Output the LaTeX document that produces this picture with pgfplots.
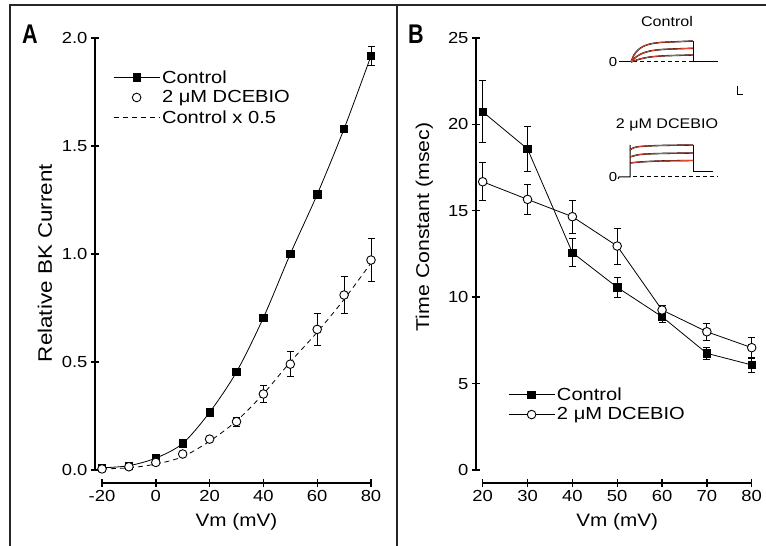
\documentclass[border=0pt]{standalone}
\usepackage{pgfplots}
\pgfplotsset{compat=1.18}
\usepackage{fontspec}
\setmainfont{Liberation Sans}[FakeStretch=1.15]
\newfontfamily\panelfont{Liberation Sans}[FakeStretch=0.8]
\definecolor{trace}{RGB}{228,72,48}

\pgfplotstableread{
x y e
-20 0.01 0
-10 0.02 0
0 0.055 0
10 0.123 0
20 0.267 0
30 0.454 0
40 0.705 0
50 1.000 0
60 1.276 0
70 1.580 0
80 1.917 0.045
}\ctrlA
\pgfplotstableread{
x y e
-20 0.005 0
-10 0.015 0
0 0.035 0
10 0.074 0
20 0.143 0
30 0.224 0.02
40 0.352 0.04
50 0.490 0.058
60 0.651 0.074
70 0.810 0.087
80 0.972 0.10
}\dcebA
\pgfplotstableread{
x y
-20 0.005
-10 0.01
0 0.0275
10 0.0615
20 0.1335
30 0.227
40 0.3525
50 0.500
60 0.638
70 0.790
80 0.9585
}\halfA
\pgfplotstableread{
x y e
20 20.73 1.8
30 18.58 1.3
40 12.58 0.8
50 10.57 0.6
60 8.87 0.3
70 6.75 0.35
80 6.08 0.45
}\ctrlB
\pgfplotstableread{
x y e
20 16.68 1.1
30 15.66 0.85
40 14.66 0.95
50 12.96 1.05
60 9.26 0.25
70 8.00 0.5
80 7.08 0.62
}\dcebB

\begin{document}
\begin{tikzpicture}
\useasboundingbox (0,0) rectangle (766pt,546pt);
\pgfplotsset{
  box/.style={scale only axis, width=269pt, height=432pt, clip=false},
  spine/.style={box,
    tick style={line width=1.4pt, black}, tick align=outside,
    major tick length=8pt,
    ticklabel style={font=\fontsize{16}{18}\selectfont},
    /pgf/number format/assume math mode=true,
    label style={font=\fontsize{18}{20}\selectfont},
  },
  yspine/.style={spine, axis y line=left, axis x line=none, xtick=\empty,
    axis line style={-, line width=1.6pt}, y axis line style={-}},
  xspine/.style={spine, axis x line=bottom, axis y line=none, ytick=\empty,
    axis line style={-, line width=1.6pt}, x axis line style={-}},
  data/.style={box, axis lines=none,
    legend cell align=left,
    legend image code/.code={\draw[mark repeat=2,mark phase=2,##1] plot coordinates {(0pt,0pt)(23pt,0pt)(46pt,0pt)};},
  },
  ctrl/.style={black, line width=0.8pt, mark=square*, mark size=3.7pt, mark options={solid, fill=black}},
  dceb/.style={black, line width=0.8pt, mark=*, mark size=4.3pt, mark options={solid, fill=white, draw=black, line width=0.9pt}},
  eb/.style={error bars/.cd, y dir=both, y explicit, error bar style={line width=0.8pt, solid}, error mark options={rotate=90, mark size=3.5pt, line width=0.8pt, solid}},
}
% frame
\draw[line width=2.2pt, black!85] (9pt,541pt) -- (766pt,541pt);
\draw[line width=2pt, black!85] (10pt,542pt) -- (10pt,0pt);
\draw[line width=2pt, black!85] (397pt,542pt) -- (397pt,0pt);
\node[font=\panelfont\bfseries\fontsize{27}{27}\selectfont] at (30pt,512pt) {A};
\node[font=\panelfont\bfseries\fontsize{27}{27}\selectfont] at (416pt,512pt) {B};

% ---------- Panel A ----------
\begin{axis}[yspine, at={(95pt,76pt)}, anchor=south west,
  xmin=-20, xmax=80, ymin=0, ymax=2, ytick={0,0.5,1,1.5,2},
  yticklabel style={/pgf/number format/.cd, fixed, fixed zerofill, precision=1},
  ylabel={Relative BK Current},
  y label style={at={(axis description cs:-0.186,0.479)}, anchor=center, font=\fontsize{19.5}{21}\selectfont}]
\end{axis}
\begin{axis}[xspine, at={(102pt,63pt)}, anchor=south west,
  xmin=-20, xmax=80, ymin=0, ymax=2, xtick={-20,0,20,40,60,80},
  xlabel={Vm (mV)},
  x label style={at={(axis description cs:0.5,0)}, anchor=center, yshift=-39pt}]
\end{axis}
\begin{axis}[data, at={(102pt,76pt)}, anchor=south west,
  xmin=-20, xmax=80, ymin=0, ymax=2,
  legend style={draw=none, fill=none, font=\fontsize{17.5}{21}\selectfont,
    at={(axis description cs:0.041,0.93)}, anchor=north west, inner sep=0pt, row sep=2pt},
]
\addplot[ctrl, smooth, eb] table[x=x, y=y, y error=e] {\ctrlA};
\addlegendentry{Control}
\addplot[black, line width=0.8pt, dash pattern=on 5pt off 4pt, smooth, forget plot] table[x=x, y=y] {\halfA};
\addplot[dceb, only marks, eb] table[x=x, y=y, y error=e] {\dcebA};
\addlegendentry{2 μM DCEBIO}
\addlegendimage{black, line width=0.8pt, dash pattern=on 5pt off 4pt}
\addlegendentry{Control x 0.5}
\end{axis}

% ---------- Panel B ----------
\begin{axis}[yspine, at={(476pt,76pt)}, anchor=south west,
  xmin=20, xmax=80, ymin=0, ymax=25, ytick={0,5,...,25},
  ylabel={Time Constant (msec)},
  y label style={at={(axis description cs:-0.192,0.5625)}, anchor=center, font=\fontsize{18.5}{21}\selectfont}]
\end{axis}
\begin{axis}[xspine, at={(482.7pt,63pt)}, anchor=south west,
  xmin=20, xmax=80, ymin=0, ymax=25, xtick={20,30,...,80},
  xlabel={Vm (mV)},
  x label style={at={(axis description cs:0.5,0)}, anchor=center, yshift=-39pt}]
\end{axis}
\begin{axis}[data, at={(482.7pt,76pt)}, anchor=south west,
  xmin=20, xmax=80, ymin=0, ymax=25,
  legend style={draw=none, fill=none, font=\fontsize{17.5}{21}\selectfont,
    at={(axis description cs:0.094,0.196)}, anchor=north west, inner sep=0pt, row sep=2pt},
]
\addplot[ctrl, eb] table[x=x, y=y, y error=e] {\ctrlB};
\addlegendentry{Control}
\addplot[dceb, eb] table[x=x, y=y, y error=e] {\dcebB};
\addlegendentry{2 μM DCEBIO}
\end{axis}

% ---------- Insets (pixel coordinates of the figure) ----------
\begin{axis}[at={(590pt,346pt)}, anchor=south west, scale only axis,
  width=160pt, height=200pt, xmin=590, xmax=750, ymin=0, ymax=200,
  y dir=reverse, axis lines=none, clip=false]
\node[font=\fontsize{14}{16}\selectfont] at (axis cs:667,22) {Control};
\node[font=\fontsize{14}{16}\selectfont] at (axis cs:667,125) {2 μM DCEBIO};
\node[font=\fontsize{13}{15}\selectfont] at (axis cs:613,62) {0};
\node[font=\fontsize{13}{15}\selectfont] at (axis cs:613,177) {0};
% control traces
\addplot[black, line width=1pt] coordinates {(619,62)(631,62)};
\addplot[black, line width=1pt, dash pattern=on 4pt off 3pt] coordinates {(633,62)(693,62)};
\addplot[black, line width=1pt] coordinates {(693,41)(693,62)(718,62)};
\addplot[black, line width=1.4pt, smooth] coordinates {(631,62)(634,55)(638,50)(643,46.5)(650,44)(660,42.5)(675,41.8)(693,41)};
\addplot[black, line width=1.4pt, smooth] coordinates {(631,62)(636,57)(642,53.5)(650,51)(662,49.5)(680,48.7)(693,48.3)};
\addplot[black, line width=1.4pt, smooth] coordinates {(631,62)(640,59)(650,57)(665,55.8)(693,55)};
\addplot[trace, line width=0.8pt, smooth] coordinates {(631,62)(634,55)(638,50)(643,46.5)(650,44)(660,42.5)(675,41.8)(693,41)};
\addplot[trace, line width=0.8pt, smooth] coordinates {(631,62)(636,57)(642,53.5)(650,51)(662,49.5)(680,48.7)(693,48.3)};
\addplot[trace, line width=0.8pt, smooth] coordinates {(631,62)(640,59)(650,57)(665,55.8)(693,55)};
% scale bar
\addplot[black, line width=0.9pt] coordinates {(737,86)(737,94)(743,94)};
% DCEBIO traces
\addplot[black, line width=1pt] coordinates {(618,179)(619,177)(630,177)(630,145)};
\addplot[black, line width=1pt, dash pattern=on 4pt off 3pt] coordinates {(633,177)(718,177)};
\addplot[black, line width=1pt] coordinates {(693,145)(693,172)(713,172)};
\addplot[black, line width=1.4pt, smooth] coordinates {(630,150)(633,148)(640,146.5)(660,145.5)(693,145)};
\addplot[black, line width=1.4pt, smooth] coordinates {(630,157)(640,154.5)(660,153.5)(693,153)};
\addplot[black, line width=1.4pt, smooth] coordinates {(630,163)(640,162)(660,161)(693,160.5)};
\addplot[trace, line width=0.8pt, smooth] coordinates {(630,150)(633,148)(640,146.5)(660,145.5)(693,145)};
\addplot[trace, line width=0.8pt, smooth] coordinates {(630,157)(640,154.5)(660,153.5)(693,153)};
\addplot[trace, line width=0.8pt, smooth] coordinates {(630,163)(640,162)(660,161)(693,160.5)};
\end{axis}
\end{tikzpicture}
\end{document}
